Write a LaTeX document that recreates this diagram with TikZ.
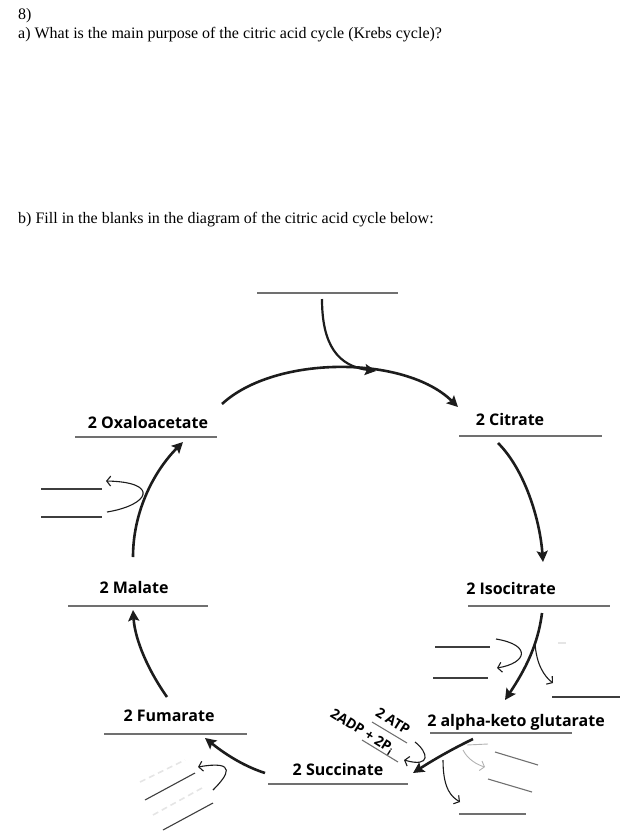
\documentclass[tikz,border=0pt]{standalone}
\usepackage{fontspec}
\setmainfont{Liberation Serif}
\newfontfamily\labelfont{Open Sans}
\usepackage{tikz}
\usetikzlibrary{arrows.meta,positioning,calc}
\definecolor{blankgray}{HTML}{707070}
\definecolor{ink}{HTML}{1C1C1C}

\begin{document}
\begin{tikzpicture}[x=1pt, y=-1pt,
  question/.style={anchor=base west, inner sep=0pt, font=\fontsize{16}{18}\selectfont},
  chem/.style={inner sep=0pt, font=\labelfont\bfseries\fontsize{16}{18}\selectfont},
  small chem/.style={chem, font=\labelfont\bfseries\fontsize{14}{16}\selectfont, rotate=-32},
  blank/.style={draw=blankgray, line width=1.8pt},
  handblank/.style={draw=ink!85, line width=1.1pt},
  faint/.style={draw=gray!20, line width=1.6pt, dash pattern=on 6pt off 4pt},
  cyclearrow/.style={draw=ink, line width=2.6pt, -{Stealth[length=11pt,width=11pt,inset=2pt]}},
  handarrow/.style={draw=ink, line width=1.1pt, -{Straight Barb[length=4pt,width=10pt]}}]
  \useasboundingbox (0,0) rectangle (627,836);

  \node (qnum) [question] at (18,19) {8)};
  \node (qa) [question] at (18,38) {a) What is the main purpose of the citric acid cycle (Krebs cycle)?};
  \node (qb) [question] at (18,223) {b) Fill in the blanks in the diagram of the citric acid cycle below:};

  \node (oxa) [chem] at (148,422) {2 Oxaloacetate};
  \node (citrate) [chem] at (510,419) {2 Citrate};
  \node (malate) [chem] at (134,587) {2 Malate};
  \node (isocit) [chem] at (511,588) {2 Isocitrate};
  \node (fumarate) [chem] at (169,716) {2 Fumarate};
  \node (akg) [chem] at (516,722) {2 alpha-keto glutarate};
  \node (succ) [chem] at (338,769) {2 Succinate};
  \node (atp) [small chem] at (393,721) {2 ATP};
  \node (adp) [small chem] at (362,732) {2ADP + 2P\textsubscript{i}};

  \draw[blank] (257,293) -- (398,293);
  \draw[blank] (75,437) -- (217,437);
  \draw[blank] (459,436) -- (602,436);
  \draw[blank] (68,606) -- (208,606);
  \draw[blank] (468,606) -- (610,606);
  \draw[blank] (104,734) -- (247,734);
  \draw[blank] (430,733) -- (572,733);
  \draw[blank] (268,784) -- (408,784);

  \draw[handblank] (41,489) -- (102,489);
  \draw[handblank] (41,517) -- (102,517);
  \draw[handblank] (435,647) -- (490,647);
  \draw[handblank] (433,678) -- (488,678);
  \draw[handblank] (552,697) -- (620,697);
  \draw[handblank, draw=blankgray] (372,722) -- (407,743);
  \draw[handblank, draw=blankgray] (362,740) -- (398,762);
  \draw[handblank, draw=blankgray] (495,752) -- (538,765);
  \draw[handblank, draw=blankgray] (488,779) -- (532,792);
  \draw[handblank, draw=blankgray] (459,814) -- (526,814);
  \draw[handblank] (145,800) -- (195,773);
  \draw[handblank] (163,830) -- (213,803);
  \draw[faint] (140,782) -- (185,760);
  \draw[faint] (153,815) -- (202,788);
  \draw[faint, dash pattern={}] (558,643) -- (566,643);

  \coordinate (top-in) at (322,299);
  \coordinate (top-join) at (376,371);
  \coordinate (oxa-out) at (222,404);
  \coordinate (citrate-in) at (458,407);
  \coordinate (citrate-out) at (498,443);
  \coordinate (isocit-in) at (543,562);
  \coordinate (isocit-out) at (542,613);
  \coordinate (akg-in) at (505,700);
  \coordinate (akg-out) at (473,739);
  \coordinate (succ-in) at (413,773);
  \coordinate (succ-out) at (265,773);
  \coordinate (fum-in) at (205,738);
  \coordinate (fum-out) at (167,697);
  \coordinate (mal-in) at (133,610);
  \coordinate (mal-out) at (133,557);
  \coordinate (oxa-in) at (183,442);

  \draw[cyclearrow] (oxa-out) .. controls (275,355) and (405,355) .. (citrate-in);
  \draw[cyclearrow, line width=2.2pt] (top-in) .. controls (322,345) and (338,366) .. (top-join);
  \draw[cyclearrow] (citrate-out) .. controls (525,470) and (540,520) .. (isocit-in);
  \draw[cyclearrow] (isocit-out) .. controls (538,645) and (525,670) .. (akg-in);
  \draw[cyclearrow] (akg-out) .. controls (450,750) and (430,762) .. (succ-in);
  \draw[cyclearrow] (succ-out) .. controls (240,765) and (220,750) .. (fum-in);
  \draw[cyclearrow] (fum-out) .. controls (148,670) and (135,640) .. (mal-in);
  \draw[cyclearrow] (mal-out) .. controls (133,510) and (155,470) .. (oxa-in);

  \coordinate (oxa-hand) at (107,512);
  \coordinate (oxa-hand-end) at (106,481);
  \coordinate (iso-left) at (496,639);
  \coordinate (iso-left-end) at (497,668);
  \coordinate (iso-right) at (535,642);
  \coordinate (iso-right-end) at (553,683);
  \coordinate (atp-hand) at (415,742);
  \coordinate (atp-hand-end) at (404,760);
  \coordinate (akg-down) at (443,760);
  \coordinate (akg-down-end) at (460,802);
  \coordinate (akg-side) at (463,750);
  \coordinate (akg-side-end) at (485,767);
  \coordinate (fum-hand) at (213,790);
  \coordinate (fum-hand-end) at (198,767);

  \draw[handarrow] (oxa-hand) .. controls (150,505) and (160,482) .. (oxa-hand-end);
  \draw[handarrow] (iso-left) .. controls (532,645) and (527,663) .. (iso-left-end);
  \draw[handarrow] (iso-right) .. controls (536,665) and (545,677) .. (iso-right-end);
  \draw[handarrow] (atp-hand) .. controls (428,752) and (432,768) .. (atp-hand-end);
  \draw[handarrow] (akg-down) .. controls (443,790) and (452,797) .. (akg-down-end);
  \draw[handarrow] (fum-hand) .. controls (228,775) and (238,760) .. (fum-hand-end);
  \draw[handarrow, draw=gray!60, line width=0.9pt] (akg-side) .. controls (468,760) and (478,765) .. (akg-side-end);
  \draw[draw=gray!60, line width=0.9pt] (467,745) -- (488,744);
\end{tikzpicture}
\end{document}
